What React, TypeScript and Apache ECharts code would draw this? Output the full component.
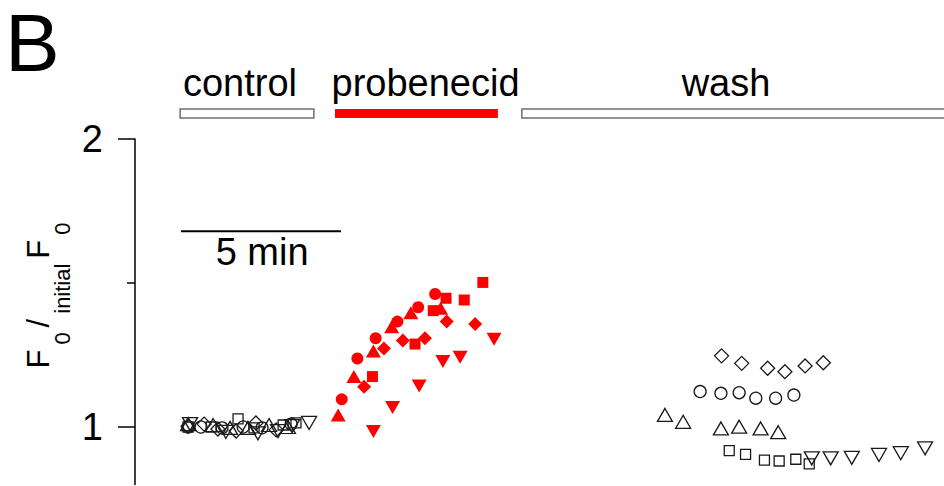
import React, { useEffect, useRef } from "react";
import * as echarts from "echarts";

// time (min) , F0 / initial F0
const ctrlDiamond = [[1.66, 1.003], [2.16, 1.01], [2.59, 0.993], [3.16, 0.986], [3.78, 1.014], [4.41, 0.99]];
const ctrlCircle = [[1.66, 1.0], [2.06, 1.0], [2.72, 0.997], [3.38, 1.0], [3.97, 0.997], [4.88, 1.01]];
const ctrlTriUp = [[1.66, 1.01], [2.44, 1.007], [2.97, 0.997], [3.53, 0.997], [4.19, 1.007], [4.78, 1.0]];
const ctrlSquare = [[1.66, 1.0], [2.38, 1.0], [3.22, 1.028], [3.72, 0.997], [4.63, 1.007], [5.03, 1.014]];
const ctrlTriDown = [[1.72, 1.01], [2.84, 0.983], [3.84, 0.978], [4.47, 0.986], [4.91, 1.003], [5.44, 1.014]];

const probCircle = [[6.46, 1.096], [6.95, 1.238], [7.52, 1.308], [8.2, 1.366], [8.85, 1.416], [9.38, 1.462]];
const probTriUp = [[6.35, 1.042], [6.84, 1.175], [7.45, 1.264], [8.02, 1.348], [8.62, 1.397], [9.55, 1.412]];
const probSquare = [[7.42, 1.175], [8.75, 1.288], [9.32, 1.404], [9.72, 1.447], [10.29, 1.441], [10.87, 1.502]];
const probDiamond = [[7.16, 1.14], [7.78, 1.273], [8.37, 1.3], [9.06, 1.308], [9.74, 1.366], [10.63, 1.358]];
const probTriDown = [[7.45, 0.984], [8.05, 1.068], [8.88, 1.142], [9.62, 1.227], [10.16, 1.242], [11.22, 1.305]];

const washDiamond = [[18.33, 1.247], [18.96, 1.221], [19.77, 1.204], [20.31, 1.192], [20.94, 1.212], [21.51, 1.223]];
const washCircle = [[17.66, 1.123], [18.31, 1.117], [18.88, 1.119], [19.4, 1.1], [20.02, 1.1], [20.59, 1.111]];
const washTriUp = [[16.56, 1.042], [17.13, 1.018], [18.31, 0.995], [18.88, 1.001], [19.55, 0.995], [20.1, 0.982]];
const washSquare = [[18.57, 0.918], [19.08, 0.905], [19.67, 0.885], [20.13, 0.882], [20.65, 0.888], [21.07, 0.872]];
const washTriDown = [[21.15, 0.891], [21.74, 0.891], [22.4, 0.893], [23.25, 0.903], [23.93, 0.909], [24.69, 0.926]];

const conditionNames = ["control", "probenecid", "wash"];
const conditionStart = [1.41, 6.25, 12.09];
const conditionEnd = [5.59, 11.34, 25.4];
const conditionLabelAt = [3.28, 9.08, 18.47];

const scaleBarStart = 1.44;
const scaleBarMinutes = 5;
const scaleBarLevel = 1.68;
const yMajorTicks = [1, 2];
const yMinorTicks = [1.5];
const yMin = 0.8;
const yMax = 2;

const FONT = "'Liberation Sans', Arial, Helvetica, sans-serif";
const RED = "#ff0000";
const INK = "#1a1a1a";

type Shape = "diamond" | "circle" | "up" | "rect" | "down";

function makeSeries(data: number[][], shape: Shape, filled: boolean) {
  const color = filled ? RED : INK;
  let symbol = "circle";
  let size: number | number[] = 12;
  let rotate = 0;
  if (shape === "diamond") { symbol = "diamond"; size = 14; }
  if (shape === "circle") { symbol = "circle"; size = 12; }
  if (shape === "rect") { symbol = "rect"; size = filled ? 11 : 10; }
  if (shape === "up") { symbol = "triangle"; size = [15, 13]; }
  if (shape === "down") { symbol = "triangle"; size = [15, 13]; rotate = 180; }
  return {
    type: "scatter",
    data,
    symbol,
    symbolSize: size,
    symbolRotate: rotate,
    silent: true,
    itemStyle: filled
      ? { color, borderWidth: 0, opacity: 1 }
      : { color: "rgba(255,255,255,0)", borderColor: color, borderWidth: 1.3, opacity: 1 },
  };
}

export default function App() {
  const ref = useRef<HTMLDivElement>(null);
  useEffect(() => {
    document.body.style.margin = "0";
    const chart = echarts.init(ref.current!, undefined, { renderer: "svg" });
    const series = [
      makeSeries(ctrlDiamond, "diamond", false),
      makeSeries(ctrlCircle, "circle", false),
      makeSeries(ctrlTriUp, "up", false),
      makeSeries(ctrlSquare, "rect", false),
      makeSeries(ctrlTriDown, "down", false),
      makeSeries(probCircle, "circle", true),
      makeSeries(probTriUp, "up", true),
      makeSeries(probSquare, "rect", true),
      makeSeries(probDiamond, "diamond", true),
      makeSeries(probTriDown, "down", true),
      makeSeries(washDiamond, "diamond", false),
      makeSeries(washCircle, "circle", false),
      makeSeries(washTriUp, "up", false),
      makeSeries(washSquare, "rect", false),
      makeSeries(washTriDown, "down", false),
    ];
    const tickLine = { color: "#000", width: 1.5 };
    chart.setOption({
      animation: false,
      backgroundColor: "#ffffff",
      grid: { left: 135, top: 139, width: 809, height: 288 * (yMax - yMin), containLabel: false },
      xAxis: { type: "value", min: 0, max: 809 / 32, show: false },
      yAxis: [
        {
          type: "value",
          min: yMin,
          max: yMax,
          splitLine: { show: false },
          axisLine: { show: true, lineStyle: tickLine },
          axisTick: { show: true, length: 17, lineStyle: tickLine, customValues: yMajorTicks },
          axisLabel: {
            margin: 32,
            fontSize: 38,
            color: "#000",
            fontFamily: FONT,
            customValues: yMajorTicks,
            formatter: (v: number) => String(v),
          },
        },
        {
          type: "value",
          position: "left",
          min: yMin,
          max: yMax,
          splitLine: { show: false },
          axisLine: { show: false },
          axisTick: { show: true, length: 8, lineStyle: tickLine, customValues: yMinorTicks },
          axisLabel: { show: false },
        },
      ],
      series,
    });

    const px = (t: number, v: number) =>
      chart.convertToPixel({ xAxisIndex: 0, yAxisIndex: 0 }, [t, v]) as number[];

    const graphic: any[] = [];
    graphic.push({
      type: "text",
      x: 5,
      y: 42,
      style: {
        text: "B", fontSize: 82, lineHeight: 62, fontFamily: FONT, fill: "#000",
        align: "left", verticalAlign: "middle",
      },
    });
    conditionNames.forEach((name, i) => {
      const x0 = px(conditionStart[i], 1)[0];
      const x1 = px(conditionEnd[i], 1)[0];
      const isDrug = name === "probenecid";
      graphic.push({
        type: "rect",
        shape: { x: x0, y: 109, width: x1 - x0, height: 9 },
        style: isDrug
          ? { fill: RED, stroke: null }
          : { fill: "#ffffff", stroke: "#6e6e6e", lineWidth: 1.5 },
      });
      graphic.push({
        type: "text",
        x: px(conditionLabelAt[i], 1)[0],
        y: 83,
        style: { text: name, fontSize: 38, fontFamily: FONT, fill: "#000", align: "center", verticalAlign: "middle" },
      });
    });
    const sb0 = px(scaleBarStart, scaleBarLevel);
    const sb1 = px(scaleBarStart + scaleBarMinutes, scaleBarLevel);
    graphic.push({
      type: "line",
      shape: { x1: sb0[0], y1: sb0[1], x2: sb1[0], y2: sb1[1] },
      style: { stroke: "#000", lineWidth: 2 },
    });
    graphic.push({
      type: "text",
      x: (sb0[0] + sb1[0]) / 2 + 1,
      y: sb0[1] + 21,
      style: { text: scaleBarMinutes + " min", fontSize: 38, fontFamily: FONT, fill: "#000", align: "center", verticalAlign: "middle" },
    });
    graphic.push({
      type: "text",
      x: 48,
      y: 297,
      rotation: Math.PI / 2,
      style: {
        text: "{b|F}{s|0}{b|/}{s|initial}{b|F}{s|0}",
        align: "center",
        verticalAlign: "middle",
        fill: "#000",
        rich: {
          b: { fontSize: 31, fontFamily: FONT, fill: "#000", padding: [0, 4, 20, 4] },
          s: { fontSize: 22, fontFamily: FONT, fill: "#000", padding: [29, 1, 0, 1] },
        },
      },
    });
    chart.setOption({ graphic });

    return () => chart.dispose();
  }, []);
  return <div ref={ref} style={{ position: "fixed", left: 0, top: 0, width: 944, height: 486 }} />;
}
